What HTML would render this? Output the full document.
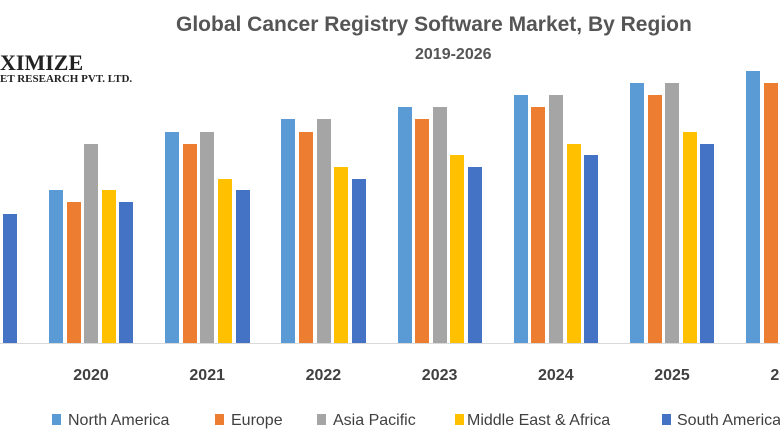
<!DOCTYPE html><html><head><style>
body{margin:0;width:780px;height:440px;background:#fff;position:relative;overflow:hidden;font-family:"Liberation Sans",sans-serif}
.b{position:absolute;width:14px}
.t{position:absolute;white-space:nowrap}
.yr{position:absolute;top:367px;font-size:16px;color:#404040;width:60px;text-align:center;font-weight:bold}
.lg{position:absolute;top:412px;font-size:16px;color:#404040;white-space:nowrap}
.sq{position:absolute;top:414px;width:9px;height:11px}
</style></head><body>
<div class="t" style="left:176px;top:13px;font-size:21px;font-weight:bold;color:#555">Global Cancer Registry Software Market, By Region</div>
<div class="t" style="left:415px;top:46px;font-size:16px;font-weight:bold;color:#555">2019-2026</div>
<div class="t" style="left:0;top:50px;font-family:'Liberation Serif',serif;font-size:22px;font-weight:bold;color:#222">XIMIZE</div>
<div class="t" style="left:0;top:73px;font-family:'Liberation Serif',serif;font-size:11px;font-weight:bold;color:#222">ET RESEARCH PVT. LTD.</div>
<div style="position:absolute;left:0;top:343px;width:780px;height:1px;background:#d9d9d9"></div>
<div id="bars"></div>
<script>
var c=['#5b9bd5','#ed7d31','#a5a5a5','#ffc000','#4472c4'];
var tops=[[225,237,190,202,214],[190,202,144,190,202],[132,144,132,179,190],[119,132,119,167,179],[107,119,107,155,167],[95,107,95,144,155],[83,95,83,132,144],[71,83,71,120,132]];
var h='';
for(var g=0;g<8;g++){var x0=49+(g-1)*116.2;for(var i=0;i<5;i++){var x=x0+i*17.6;h+='<div class="b" style="left:'+x.toFixed(1)+'px;top:'+tops[g][i]+'px;height:'+(343-tops[g][i])+'px;background:'+c[i]+'"></div>';}
if(g>0)h+='<div class="yr" style="left:'+(x0+12).toFixed(1)+'px">'+(2019+g)+'</div>';}
document.getElementById('bars').innerHTML=h;
</script>
<div class="sq" style="left:52px;background:#5b9bd5"></div><div class="lg" style="left:68px">North America</div>
<div class="sq" style="left:215px;background:#ed7d31"></div><div class="lg" style="left:231px">Europe</div>
<div class="sq" style="left:317px;background:#a5a5a5"></div><div class="lg" style="left:333px">Asia Pacific</div>
<div class="sq" style="left:455px;background:#ffc000"></div><div class="lg" style="left:467px">Middle East &amp; Africa</div>
<div class="sq" style="left:662px;background:#4472c4"></div><div class="lg" style="left:677px">South America</div>
</body></html>
